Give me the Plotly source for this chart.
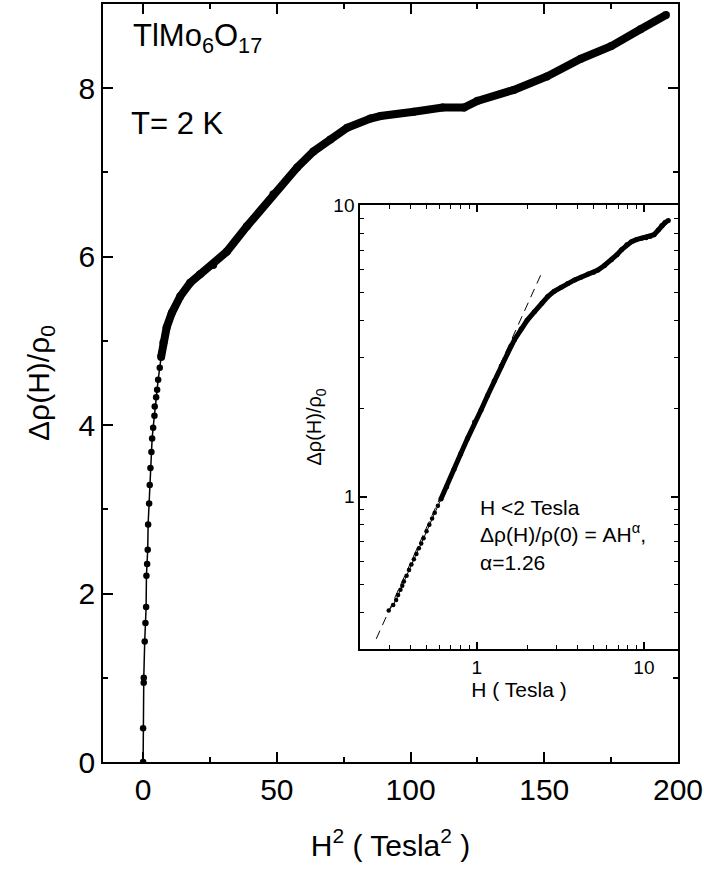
import plotly.graph_objects as go

# ---------------- data ----------------
# main panel: individual low-field points (x = H^2 in Tesla^2, y = delta rho / rho0)
main_sparse_h2 = [0.0, 0.0, 0.22, 0.25, 0.6, 0.86, 1.12, 1.24, 1.5, 1.72, 1.87, 2.25,
                  2.47, 2.73, 3.1, 3.37, 3.75, 4.23, 4.34, 4.87, 5.24, 5.62, 6.22, 6.74]
main_sparse_dr = [0.0, 0.40, 0.94, 1.00, 1.43, 1.65, 1.84, 2.21, 2.35, 2.52, 2.82, 3.07,
                  3.29, 3.49, 3.68, 3.84, 3.97, 4.11, 4.22, 4.33, 4.42, 4.54, 4.68, 4.81]
# main panel: dense high-field data (drawn as a thick band of overlapping points)
main_dense_h2 = [6.74, 7.6, 8.8, 10.7, 13.9, 17.6, 21.3, 26.2, 31.3, 38.8, 48.7, 57.6,
                 63.7, 70.0, 76.3, 85.0, 88.8, 101.2, 112.0, 120.0, 125.0, 138.6, 151.0,
                 163.7, 175.0, 186.0, 195.5]
main_dense_dr = [4.81, 4.98, 5.16, 5.33, 5.53, 5.69, 5.79, 5.90, 6.06, 6.36, 6.74, 7.06,
                 7.25, 7.39, 7.53, 7.64, 7.67, 7.72, 7.77, 7.77, 7.85, 7.98, 8.14,
                 8.35, 8.50, 8.70, 8.87]

# inset: low-field separate points (H in Tesla)
inset_low_h = [0.297, 0.316, 0.329, 0.338, 0.349, 0.358, 0.366, 0.38, 0.393, 0.406, 0.42,
               0.435, 0.45, 0.465, 0.48, 0.50, 0.52, 0.54, 0.56, 0.585, 0.61]
inset_low_dr = [0.407, 0.425, 0.442, 0.460, 0.479, 0.494, 0.511, 0.535, 0.56, 0.585, 0.61,
                0.635, 0.665, 0.69, 0.72, 0.76, 0.80, 0.84, 0.88, 0.93, 0.98]
# inset: dense data
inset_h = [0.61, 0.66, 0.731, 0.80, 0.879, 0.97, 1.06, 1.16, 1.27, 1.40, 1.53, 1.68, 1.84,
           2.0, 2.21, 2.45, 2.66, 2.9, 3.2, 3.5, 3.85, 4.2, 4.63, 5.0, 5.31, 5.8, 6.39,
           6.9, 7.34, 7.9, 8.43, 9.0, 9.7, 10.3, 10.9, 11.5, 12.2, 12.8, 13.4, 14.0]
inset_dr = [0.98, 1.08, 1.24, 1.40, 1.58, 1.80, 1.98, 2.22, 2.49, 2.80, 3.10, 3.45, 3.75,
            4.02, 4.30, 4.60, 4.85, 5.05, 5.22, 5.38, 5.53, 5.65, 5.79, 5.88, 5.98, 6.20,
            6.48, 6.75, 7.01, 7.30, 7.48, 7.60, 7.69, 7.72, 7.79, 7.90, 8.20, 8.50, 8.70, 8.84]
# inset: power-law fit (dashed), endpoints
fit_h = [0.25, 2.45]
fit_dr = [0.325, 5.86]

main_xticks = [0, 50, 100, 150, 200]
main_yticks = [0, 2, 4, 6, 8]
inset_major = [1, 10]
inset_x_minor = [0.3, 0.4, 0.5, 0.6, 0.7, 0.8, 0.9, 2, 3, 4, 5, 6, 7, 8, 9]
inset_y_minor = [0.4, 0.5, 0.6, 0.7, 0.8, 0.9, 2, 3, 4, 5, 6, 7, 8, 9]

FONT = "Liberation Sans, Arial, Helvetica, sans-serif"

fig = go.Figure()

# main
fig.add_trace(go.Scatter(x=main_sparse_h2, y=main_sparse_dr, mode="lines+markers",
                         line=dict(color="black", width=1.5),
                         marker=dict(color="black", size=6.5),
                         xaxis="x", yaxis="y", showlegend=False))
fig.add_trace(go.Scatter(x=main_dense_h2, y=main_dense_dr, mode="lines+markers",
                         line=dict(color="black", width=8),
                         marker=dict(color="black", size=8),
                         xaxis="x", yaxis="y", showlegend=False))
# inset
fig.add_trace(go.Scatter(x=fit_h, y=fit_dr, mode="lines",
                         line=dict(color="black", width=1, dash="9px,6px"),
                         xaxis="x2", yaxis="y2", showlegend=False))
fig.add_trace(go.Scatter(x=inset_low_h, y=inset_low_dr, mode="lines+markers",
                         line=dict(color="black", width=1),
                         marker=dict(color="black", size=4.5),
                         xaxis="x2", yaxis="y2", showlegend=False))
fig.add_trace(go.Scatter(x=inset_h, y=inset_dr, mode="lines+markers",
                         line=dict(color="black", width=5),
                         marker=dict(color="black", size=5),
                         xaxis="x2", yaxis="y2", showlegend=False))

axis_common = dict(showline=True, linecolor="black", linewidth=1.5, mirror="ticks",
                   ticks="inside", tickcolor="black", tickwidth=1.5, showgrid=False,
                   zeroline=False, automargin=False)

fig.update_layout(
    width=704, height=873,
    margin=dict(l=103, r=26, t=4, b=111, autoexpand=False),
    paper_bgcolor="white", plot_bgcolor="white",
    font=dict(family=FONT, color="black"),
    xaxis=dict(**axis_common, domain=[0, 1], range=[-15, 200], tickvals=main_xticks,
               ticklen=10, tickfont=dict(size=30),
               minor=dict(dtick=25, ticks="inside", ticklen=5, tickcolor="black", tickwidth=1.5),
               title=dict(text="H<sup>2</sup> ( Tesla<sup>2</sup> )", font=dict(size=30), standoff=30)),
    yaxis=dict(**axis_common, domain=[0, 1], range=[0, 9], tickvals=main_yticks,
               ticklen=10, tickfont=dict(size=30),
               minor=dict(dtick=1, ticks="inside", ticklen=5, tickcolor="black", tickwidth=1.5),
               title=dict(text="Δρ(H)/ρ<sub>0</sub>", font=dict(size=30), standoff=20)),
    xaxis2=dict(**axis_common, type="log", domain=[0.447, 1.0], anchor="y2",
                range=[-0.699, 1.204], tickvals=inset_major, ticktext=["1", "10"],
                ticklen=7, tickfont=dict(size=19),
                minor=dict(tickvals=inset_x_minor, ticks="inside", ticklen=4,
                           tickcolor="black", tickwidth=1.2),
                title=dict(text="H ( Tesla )", font=dict(size=21), standoff=4)),
    yaxis2=dict(**axis_common, type="log", domain=[0.149, 0.735], anchor="x2",
                range=[-0.523, 1.0], tickvals=inset_major, ticktext=["1", "10"],
                ticklen=7, tickfont=dict(size=19),
                minor=dict(tickvals=inset_y_minor, ticks="inside", ticklen=4,
                           tickcolor="black", tickwidth=1.2),
                title=dict(text="Δρ(H)/ρ<sub>0</sub>", font=dict(size=20), standoff=6)),
)

fig.add_annotation(text="TlMo<sub>6</sub>O<sub>17</sub>", xref="paper", yref="paper",
                   x=(131 - 102.6) / 575.4, y=(762 - 38) / 758, xanchor="left", yanchor="middle",
                   showarrow=False, font=dict(size=31))
fig.add_annotation(text="T= 2 K", xref="paper", yref="paper",
                   x=(129 - 102.6) / 575.4, y=(762 - 123) / 758, xanchor="left", yanchor="middle",
                   showarrow=False, font=dict(size=31))
fig.add_annotation(text="H <2 Tesla<br>Δρ(H)/ρ(0) = AH<sup>α</sup>,<br>α=1.26",
                   xref="paper", yref="paper", align="left",
                   x=(478 - 102.6) / 575.4, y=(762 - 535) / 758, xanchor="left", yanchor="middle",
                   showarrow=False, font=dict(size=21))

fig.write_html("out.html", config={"displayModeBar": False},
               post_script="document.body.style.margin='0';document.body.style.overflow='hidden';")
